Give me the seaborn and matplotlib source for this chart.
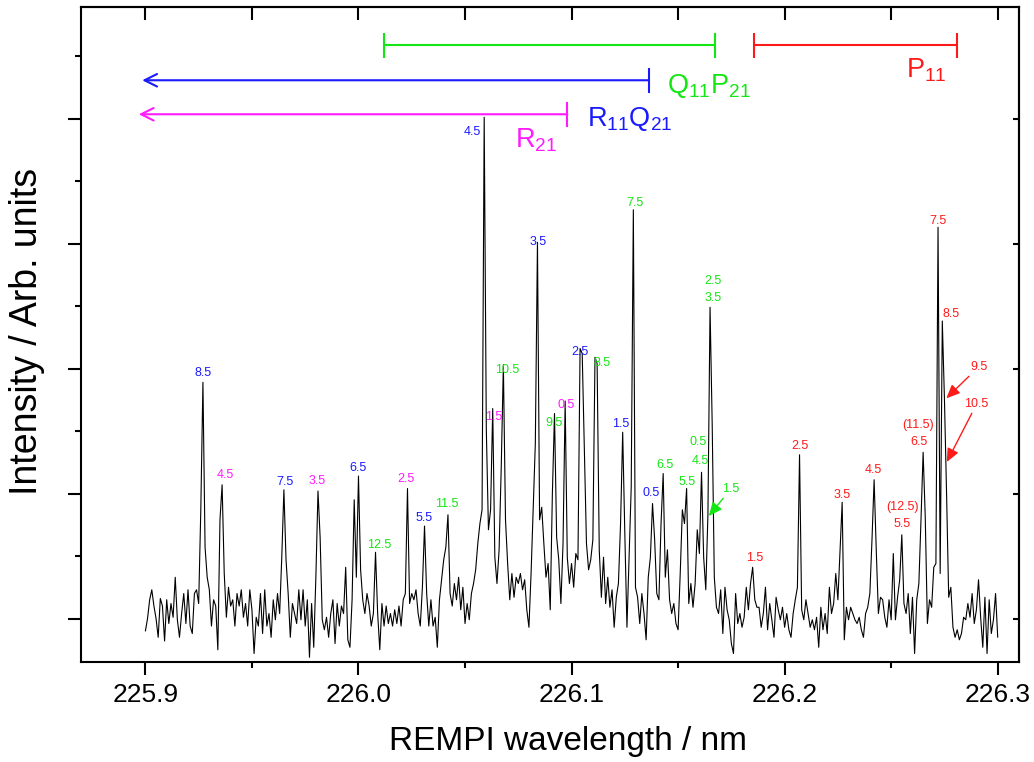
import numpy as np
import matplotlib
matplotlib.use('Agg')
import matplotlib.pyplot as plt
from matplotlib.ticker import MultipleLocator, FormatStrFormatter
import seaborn as sns

# REMPI spectrum, sampled every 0.001 nm starting at 225.900 nm
wl_start = 225.900
wl_step = 0.001
intensity = [
    -0.10, 0.00, 0.15, 0.23, 0.10, 0.00, -0.15, 0.16, 0.10, -0.18,
    0.15, -0.04, 0.12, 0.01, 0.33, -0.01, -0.15, 0.04, 0.20, -0.04,
    0.23, -0.06, -0.12, 0.20, 0.23, 0.12, 0.87, 1.89, 0.57, 0.33,
    0.23, -0.06, 0.15, 0.10, -0.25, 0.79, 1.07, 0.36, 0.01, 0.25,
    0.10, 0.15, -0.06, 0.20, 0.10, 0.23, 0.01, 0.12, -0.06, 0.23,
    0.07, -0.28, 0.01, -0.06, 0.20, -0.12, 0.23, -0.06, 0.04, -0.15,
    0.15, -0.01, 0.20, 0.04, 0.49, 1.03, 0.47, 0.20, -0.15, 0.12,
    0.04, -0.04, 0.23, -0.01, 0.23, -0.06, 0.15, -0.31, 0.12, -0.23,
    0.33, 1.02, 0.65, -0.01, -0.09, 0.01, -0.15, 0.04, 0.15, -0.20,
    0.12, -0.06, 0.10, 0.04, 0.41, -0.17, -0.23, 0.15, 0.95, 0.33,
    1.14, 0.39, 0.15, 0.04, 0.20, 0.10, -0.06, 0.04, 0.53, 0.04,
    -0.25, 0.12, -0.06, 0.10, -0.04, 0.04, -0.06, 0.07, -0.04, 0.10,
    -0.06, 0.15, 0.20, 1.04, 0.12, 0.20, 0.15, 0.23, 0.04, -0.06,
    0.25, 0.74, 0.20, -0.06, 0.15, -0.06, 0.01, -0.23, 0.15, 0.31,
    0.47, 0.57, 0.83, 0.20, 0.10, 0.28, 0.15, 0.33, 0.07, 0.25,
    -0.04, 0.12, -0.01, 0.20, 0.28, 0.39, 0.60, 0.76, 0.87, 4.01,
    1.51, 0.71, 0.87, 1.68, 0.49, 0.28, 0.55, 1.21, 2.03, 0.79,
    0.44, 0.15, 0.36, 0.17, 0.33, 0.28, 0.36, 0.23, 0.31, 0.07,
    -0.07, 0.36, 0.87, 1.40, 3.01, 0.79, 0.89, 0.60, 0.33, 0.44,
    0.07, 1.00, 1.64, 0.65, 0.47, 0.12, 0.60, 1.74, 0.49, 0.28,
    0.44, 0.25, 0.52, 0.47, 2.16, 2.12, 1.37, 0.60, 0.39, 0.47,
    0.63, 2.09, 2.04, 0.55, 0.17, 0.49, 0.12, 0.33, 0.09, 0.23,
    -0.07, 0.17, 0.28, 0.76, 1.49, 0.68, -0.07, 0.49, 1.05, 3.27,
    0.25, 0.17, -0.04, 0.20, 0.04, -0.17, 0.33, 0.49, 0.92, 0.63,
    0.20, 0.15, 0.76, 1.16, 0.33, 0.55, 0.15, 0.04, 0.12, -0.04,
    -0.09, 0.36, 0.87, 0.76, 1.04, 0.12, 0.28, 0.09, 0.28, 0.71,
    0.52, 1.17, 0.49, 0.23, 0.83, 2.49, 1.56, 0.33, 0.09, 0.04,
    0.23, -0.12, 0.25, 0.07, -0.01, -0.20, -0.28, 0.20, -0.04, 0.04,
    -0.07, 0.01, 0.25, 0.07, 0.28, 0.41, 0.15, 0.09, 0.09, -0.07,
    0.04, 0.25, -0.09, 0.12, -0.01, -0.15, 0.17, 0.07, -0.01, 0.09,
    -0.07, 0.04, -0.09, -0.15, 0.04, 0.15, 0.25, 1.31, 0.07, -0.01,
    0.15, 0.04, -0.07, -0.01, -0.09, 0.01, -0.23, 0.09, -0.09, 0.04,
    -0.12, 0.25, 0.04, 0.12, 0.36, 0.15, 0.55, 0.93, -0.17, 0.09,
    -0.01, 0.09, 0.04, -0.01, -0.04, 0.01, -0.09, -0.15, 0.04, 0.09,
    0.20, 0.63, 1.11, 0.55, 0.04, 0.17, 0.15, 0.01, -0.07, 0.15,
    -0.01, 0.52, -0.01, 0.17, 0.31, 0.67, 0.12, 0.04, 0.20, -0.12,
    0.17, -0.28, 0.15, 0.28, 0.79, 1.33, 0.81, -0.04, 0.15, 0.09,
    0.41, 0.44, 3.13, 0.36, 2.38, 1.76, 1.00, 0.17, 0.25, -0.07,
    -0.15, -0.09, -0.17, -0.12, 0.01, -0.01, 0.12, 0.01, 0.20, -0.04,
    0.07, 0.31, 0.01, -0.23, 0.17, -0.28, 0.15, -0.12, -0.01, 0.20,
    -0.15,
]
wavelength = wl_start + wl_step * np.arange(len(intensity))

GREEN = '#14e614'
BLUE = '#1a1aff'
MAGENTA = '#ff1aff'
RED = '#ff1a1a'

# rotational line assignments (J), anchored at (wavelength, intensity)
r11q21_lbl = ['8.5', '7.5', '6.5', '5.5', '4.5', '3.5', '2.5', '1.5', '0.5']
r11q21_x = [225.9272, 225.9656, 226.0000, 226.0309, 226.0533, 226.0842, 226.1039, 226.1232, 226.1372]
r11q21_y = [1.964, 1.092, 1.204, 0.804, 3.892, 3.012, 2.132, 1.556, 1.004]

r21_lbl = ['4.5', '3.5', '2.5', '1.5', '0.5']
r21_x = [225.9375, 225.9806, 226.0224, 226.0636, 226.0974]
r21_y = [1.148, 1.100, 1.116, 1.612, 1.708]

q11p21_lbl = ['12.5', '11.5', '10.5', '9.5', '8.5', '7.5', '6.5', '5.5', '0.5', '4.5', '2.5', '3.5']
q11p21_x = [226.0097, 226.0416, 226.0697, 226.0917, 226.1142, 226.1297, 226.1438, 226.1541,
            226.1593, 226.1602, 226.1663, 226.1663]
q11p21_y = [0.588, 0.916, 1.988, 1.564, 2.044, 3.324, 1.228, 1.092, 1.412, 1.260, 2.700, 2.564]

p11_lbl = ['1.5', '2.5', '3.5', '4.5', '(12.5)', '5.5', '(11.5)', '6.5', '7.5', '8.5']
p11_x = [226.1860, 226.2071, 226.2268, 226.2418, 226.2554, 226.2549, 226.2624, 226.2629, 226.2722, 226.2783]
p11_y = [0.484, 1.380, 0.988, 1.188, 0.892, 0.756, 1.548, 1.412, 3.180, 2.436]

# labels that point at a line with an arrow: label, text pos, line pos
arrow_lbl = ['1.5', '9.5', '10.5']
arrow_color = [GREEN, RED, RED]
arrow_text = [(226.1747, 1.036), (226.2910, 2.012), (226.2901, 1.716)]
arrow_tip = [(226.1644, 0.82), (226.2759, 1.762), (226.2761, 1.252)]

# branch extents at the top
branch_names = [r'$Q_{11}P_{21}$', r'$P_{11}$', r'$R_{11}Q_{21}$', r'$R_{21}$']
branch_colors = [GREEN, RED, BLUE, MAGENTA]
branch_start = [226.0120, 226.1858, 225.8985, 225.8969]
branch_end = [226.1672, 226.2808, 226.1364, 226.0980]
branch_level = [4.588, 4.588, 4.306, 4.034]
branch_open = [False, False, True, True]
branch_text = [(226.1446, 4.204), (226.2568, 4.332), (226.1071, 3.940), (226.0735, 3.772)]

sns.set_style('ticks')
plt.rcParams['font.family'] = ['Liberation Sans', 'DejaVu Sans']
plt.rcParams['mathtext.default'] = 'regular'
plt.rcParams['text.color'] = 'black'
plt.rcParams['axes.labelcolor'] = 'black'
plt.rcParams['xtick.color'] = 'black'
plt.rcParams['ytick.color'] = 'black'

fig = plt.figure(figsize=(10.34, 7.62), dpi=100)
ax = fig.add_axes([0.0788, 0.1312, 0.9067, 0.8596])

sns.lineplot(x=wavelength, y=intensity, ax=ax, color='black', linewidth=0.8,
             estimator=None, sort=False)

for lbls, xs, ys, col in [(r11q21_lbl, r11q21_x, r11q21_y, BLUE),
                          (r21_lbl, r21_x, r21_y, MAGENTA),
                          (q11p21_lbl, q11p21_x, q11p21_y, GREEN),
                          (p11_lbl, p11_x, p11_y, RED)]:
    for t, x, y in zip(lbls, xs, ys):
        ax.text(x, y, t, color=col, fontsize=9, ha='center', va='center')

for t, col, xyt, tip in zip(arrow_lbl, arrow_color, arrow_text, arrow_tip):
    ax.annotate(t, xy=tip, xytext=xyt, color=col, fontsize=9, ha='center', va='center',
                arrowprops=dict(arrowstyle='-|>,head_length=0.9,head_width=0.4',
                                color=col, lw=1.0, shrinkA=0, shrinkB=0))

cap = 0.1
for name, col, x0, x1, yl, op, xyt in zip(branch_names, branch_colors, branch_start,
                                          branch_end, branch_level, branch_open, branch_text):
    if op:
        ax.annotate('', xy=(x0, yl), xytext=(x1, yl),
                    arrowprops=dict(arrowstyle='->,head_length=0.9,head_width=0.45',
                                    color=col, lw=1.5, shrinkA=0, shrinkB=0))
        ax.vlines(x1, yl - cap, yl + cap, color=col, lw=1.5)
    else:
        ax.hlines(yl, x0, x1, color=col, lw=1.5)
        ax.vlines([x0, x1], yl - cap, yl + cap, color=col, lw=1.5)
    ax.text(xyt[0], xyt[1], name, color=col, fontsize=19.5, ha='left', va='baseline')

ax.set_xlim(225.870, 226.310)
ax.set_ylim(-0.348, 4.892)

ax.xaxis.set_major_locator(MultipleLocator(0.1))
ax.xaxis.set_minor_locator(MultipleLocator(0.05))
ax.xaxis.set_major_formatter(FormatStrFormatter('%.1f'))
ax.yaxis.set_major_locator(MultipleLocator(1))
ax.yaxis.set_minor_locator(MultipleLocator(0.5))

ax.tick_params(axis='both', which='major', direction='out', length=9.4, width=1.5,
               labelsize=19, pad=6, top=False, right=False, labelleft=False)
ax.tick_params(axis='both', which='minor', direction='out', length=4.5, width=1.5,
               top=False, right=False)

secx = ax.secondary_xaxis('top')
secx.xaxis.set_major_locator(MultipleLocator(0.05))
secx.tick_params(direction='in', length=9.4, width=1.5, labeltop=False)
secy = ax.secondary_yaxis('right')
secy.yaxis.set_major_locator(MultipleLocator(1))
secy.tick_params(direction='in', length=4, width=1.5, labelright=False)

for a in (ax, secx, secy):
    for sp in a.spines.values():
        sp.set_linewidth(1.5)
        sp.set_color('black')

ax.set_xlabel('REMPI wavelength / nm', fontsize=24)
ax.set_ylabel('Intensity / Arb. units', fontsize=27)
ax.xaxis.label.set_verticalalignment('center')
ax.yaxis.label.set_verticalalignment('center')
ax.xaxis.set_label_coords(0.519, -0.122)
ax.yaxis.set_label_coords(-0.058, 0.505)

fig.savefig('out.png', dpi=100)
